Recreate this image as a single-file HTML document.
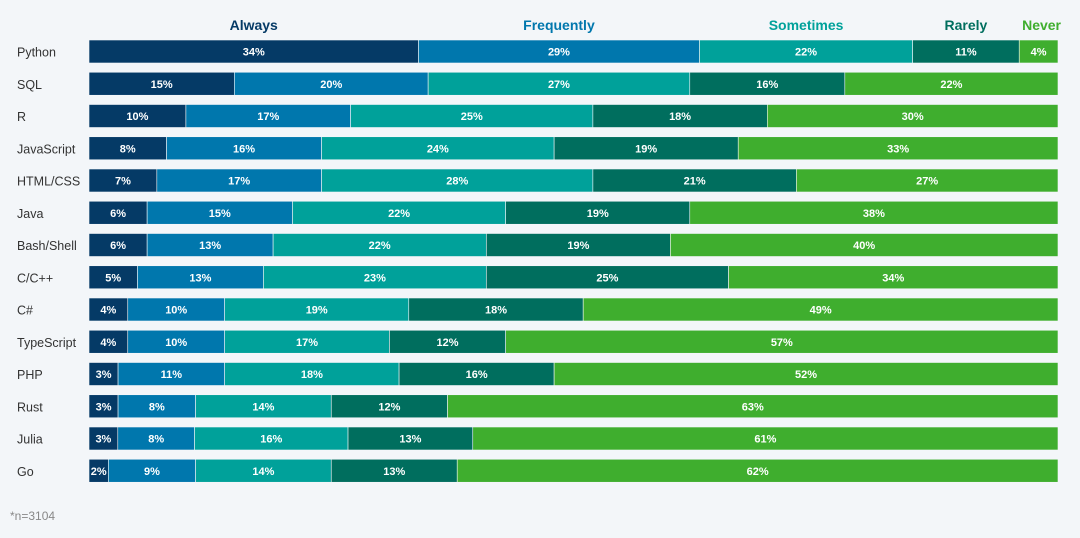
<!DOCTYPE html>
<html><head><meta charset="utf-8"><style>
html,body{margin:0;padding:0;background:#f3f6f9;width:1080px;height:538px;overflow:hidden;font-family:"Liberation Sans",sans-serif}
</style></head><body>
<svg id="chart" width="1080" height="538" xmlns="http://www.w3.org/2000/svg"></svg>
<script>
const categories=["Python","SQL","R","JavaScript","HTML/CSS","Java","Bash/Shell","C/C++","C#","TypeScript","PHP","Rust","Julia","Go"];
const seriesNames=["Always","Frequently","Sometimes","Rarely","Never"];
const always=[34,15,10,8,7,6,6,5,4,4,3,3,3,2];
const frequently=[29,20,17,16,17,15,13,13,10,10,11,8,8,9];
const sometimes=[22,27,25,24,28,22,22,23,19,17,18,14,16,14];
const rarely=[11,16,18,19,21,19,19,25,18,12,16,12,13,13];
const never=[4,22,30,33,27,38,40,34,49,57,52,63,61,62];
const series=[always,frequently,sometimes,rarely,never];
const colors=["#053a66","#0077ad","#00a19a","#006e5e","#3fae2e"];
const svg=document.getElementById('chart');
const NS="http://www.w3.org/2000/svg";
const x0=89,x1=1058,yTop=40,step=32.25,bh=23;
function xs(frac){return x0+frac*(x1-x0);}
function yRow(i){return yTop+i*step;}
function mk(tag,attrs,txt){const e=document.createElementNS(NS,tag);for(const k in attrs)e.setAttribute(k,attrs[k]);if(txt!==undefined)e.textContent=txt;svg.appendChild(e);return e;}
categories.forEach((c,i)=>{
  const t=mk('text',{x:17,y:yRow(i)+bh/2+5,'font-size':12.5,fill:'#333'},c);
  
  
  const total=series.reduce((s,a)=>s+a[i],0);
  let cum=0;
  series.forEach((arr,j)=>{
    const v=arr[i];
    const xa=xs(cum/total),xb=xs((cum+v)/total);
    const r=mk('rect',{x:xa,y:yRow(i),width:xb-xa,height:bh,fill:colors[j],stroke:'#f3f6f9','stroke-width':0.6});
    
    
    const l=mk('text',{x:(xa+xb)/2,y:yRow(i)+bh/2+4,'font-size':11,'font-weight':'bold',fill:'#fff','text-anchor':'middle'},v+'%');
    
    
    if(i===0){
      const last=j===series.length-1;
      const h=mk('text',{x:last?1061:(xa+xb)/2,y:30,'font-size':14,'font-weight':'bold',fill:colors[j],'text-anchor':last?'end':'middle'},seriesNames[j]);
      
      
    }
    cum+=v;
  });
});
const n=mk('text',{x:10,y:520,'font-size':12,fill:'#888'},'*n=3104');


</script>
</body></html>
